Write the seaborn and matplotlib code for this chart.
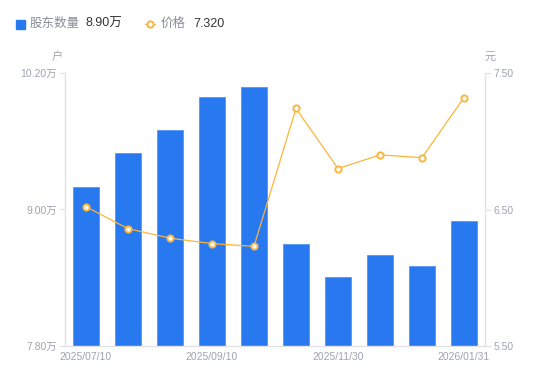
import numpy as np
import pandas as pd
import matplotlib
matplotlib.use("Agg")
import matplotlib.pyplot as plt
import seaborn as sns

# data
dates = ["2025/07/10", "2025/07/31", "2025/08/29", "2025/09/10", "2025/09/30",
         "2025/10/31", "2025/11/30", "2025/12/20", "2025/12/31", "2026/01/31"]
holders = [9.20, 9.50, 9.70, 9.99, 10.08, 8.70, 8.41, 8.60, 8.50, 8.90]  # 万户
price = [6.52, 6.36, 6.29, 6.25, 6.23, 7.24, 6.80, 6.90, 6.88, 7.32]  # 元
shown_ticks = ["2025/07/10", "2025/09/10", "2025/11/30", "2026/01/31"]
left_ticks = [7.80, 9.00, 10.20]
right_ticks = [5.50, 6.50, 7.50]

sns.set_style("white")
plt.rcParams["font.family"] = ["Liberation Sans", "Noto Sans CJK SC", "DejaVu Sans"]

blue = "#2878F0"
orange = "#FBB43C"
gray_txt = "#A0A3AE"
axis_col = "#E3E3E6"

fig = plt.figure(figsize=(5.5, 3.81), dpi=100)
ax = fig.add_axes([65 / 550, 1 - 346 / 381, 420 / 550, 273 / 381])

df = pd.DataFrame({"date": dates, "holders": holders, "price": price})
sns.barplot(data=df, x="date", y="holders", color=blue, width=0.6, saturation=1,
            edgecolor="#4A8DF3", linewidth=0.5, ax=ax)
ax.set_ylim(7.80, 10.20)
ax.set_xlim(-0.5, len(dates) - 0.5)
ax.set_yticks(left_ticks)
ax.set_yticklabels([f"{v:.2f}万" for v in left_ticks])
xt = [dates.index(d) for d in shown_ticks]
ax.set_xticks(xt)
ax.set_xticklabels(shown_ticks)
ax.set_xlabel("")
ax.set_ylabel("")

ax2 = ax.twinx()
sns.lineplot(x=np.arange(len(dates)), y=price, color=orange, linewidth=0.9,
             marker="o", markersize=4.5, markerfacecolor="white",
             markeredgecolor=orange, markeredgewidth=1.4, ax=ax2)
ax2.set_ylim(5.50, 7.50)
ax2.set_yticks(right_ticks)
ax2.set_yticklabels([f"{v:.2f}" for v in right_ticks])

for a in (ax, ax2):
    for s in a.spines.values():
        s.set_visible(False)
    a.tick_params(colors=gray_txt, labelsize=7.5, length=0)
ax.spines["left"].set_visible(True)
ax.spines["bottom"].set_visible(True)
ax2.spines["right"].set_visible(True)
for s in (ax.spines["left"], ax.spines["bottom"], ax2.spines["right"]):
    s.set_color(axis_col)
    s.set_linewidth(1)
ax.tick_params(axis="y", length=4, width=0.8, color=axis_col, pad=2)
ax2.tick_params(axis="y", length=4, width=0.8, color=axis_col, pad=2)
ax.tick_params(axis="x", pad=4)

# unit labels
fig.text(57 / 550, 1 - 57 / 381, "户", color=gray_txt, fontsize=8, ha="center", va="center")
fig.text(490 / 550, 1 - 57 / 381, "元", color=gray_txt, fontsize=8, ha="center", va="center")

# legend
ly = 1 - 24 / 381
fig.patches.append(plt.Rectangle((16 / 550, ly - 4.5 / 381), 9 / 550, 9 / 381,
                                 transform=fig.transFigure, color=blue, figure=fig))
fig.text(30 / 550, ly, "股东数量", color="#8A8D98", fontsize=9, va="center")
fig.text(85 / 550, ly, f"{holders[-1]:.2f}万", color="#333333", fontsize=9, va="center")
fig.lines.append(plt.Line2D([145 / 550, 155 / 550], [ly, ly], transform=fig.transFigure,
                            color=orange, linewidth=1, figure=fig))
fig.lines.append(plt.Line2D([150 / 550], [ly], transform=fig.transFigure, color=orange,
                            marker="o", markersize=4.5, markerfacecolor="white",
                            markeredgewidth=1.4, figure=fig))
fig.text(161 / 550, ly, "价格", color="#8A8D98", fontsize=9, va="center")
fig.text(193 / 550, ly, f"{price[-1]:.3f}", color="#333333", fontsize=9, va="center")

fig.savefig("out.png", dpi=100)
